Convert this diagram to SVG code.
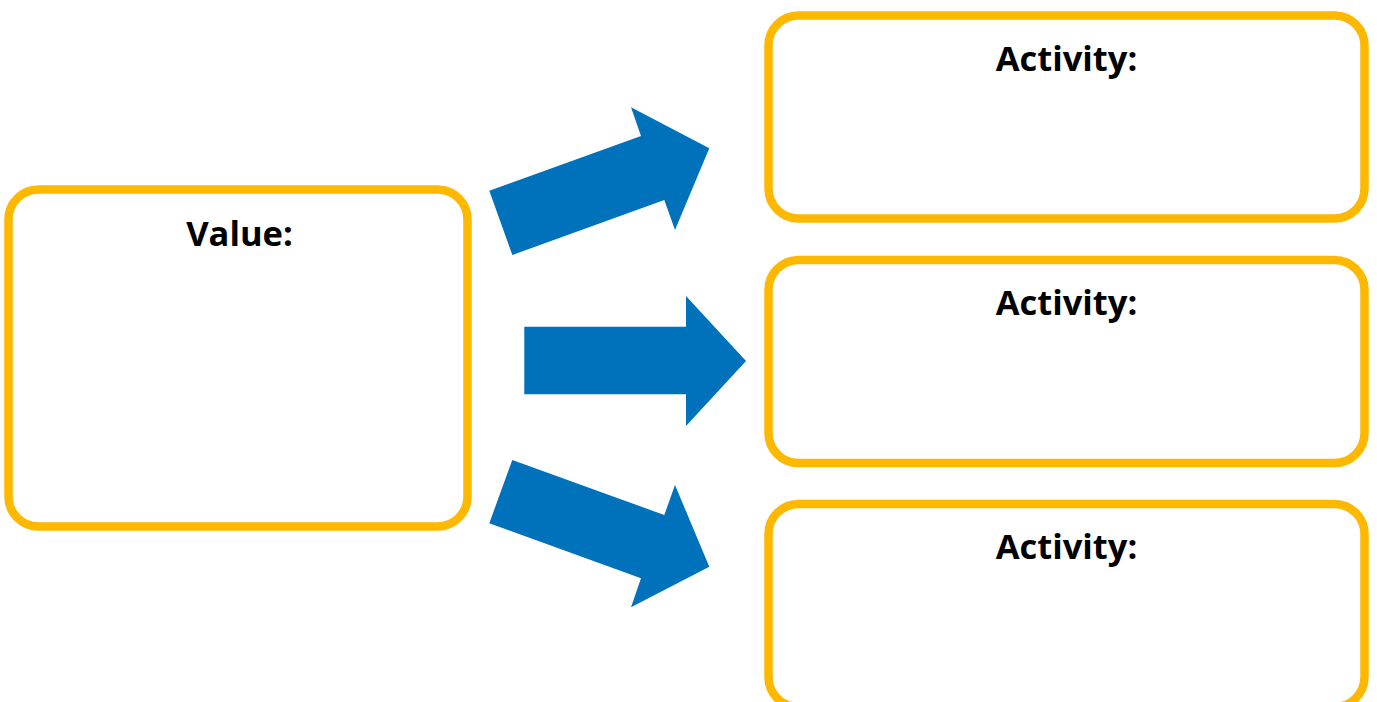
<svg xmlns="http://www.w3.org/2000/svg" width="1377" height="702" viewBox="0 0 1377 702">
<style>
.box{fill:#fff;stroke:#FFB800;stroke-width:8.5}
.lbl{font-family:"Open Sans","Noto Sans","Liberation Sans",sans-serif;font-weight:bold;font-size:34.5px;fill:#000;text-anchor:middle}
.arr{fill:#0071BB}
</style>
<rect width="1377" height="702" fill="#fff"/>
<g id="value">
<rect class="box" x="8.5" y="189.5" width="459" height="337" rx="30"/>
<text class="lbl" x="239.5" y="246">Value:</text>
</g>
<g id="activity1">
<rect class="box" x="768.5" y="15.5" width="596" height="203" rx="30"/>
<text class="lbl" x="1066.5" y="71">Activity:</text>
</g>
<g id="activity2">
<rect class="box" x="768.5" y="260" width="596" height="203" rx="30"/>
<text class="lbl" x="1066.5" y="315">Activity:</text>
</g>
<g id="activity3">
<rect class="box" x="768.5" y="504" width="596" height="203" rx="30"/>
<text class="lbl" x="1066.5" y="559">Activity:</text>
</g>
<g id="connectors">
<polygon class="arr" points="512.3,255 489.3,190.7 641,136 631,107.3 709.3,148.3 675,230 664.3,200"/>
<polygon class="arr" points="524.3,326.7 686,326.7 686,296 746,361 686,426 686,394.3 524.3,394.3"/>
<polygon class="arr" points="512.3,460 489.3,523.3 641,578.3 631,607.3 709.3,566.7 675,485 664.3,515"/>
</g>
</svg>
